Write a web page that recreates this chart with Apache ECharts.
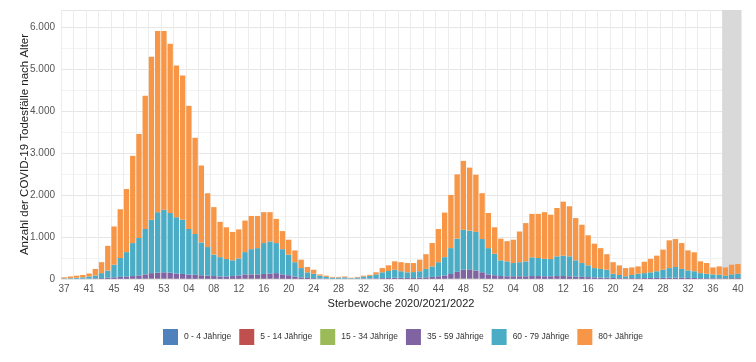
<!DOCTYPE html>
<html><head><meta charset="utf-8">
<script src="https://cdn.jsdelivr.net/npm/echarts@6/dist/echarts.min.js"></script>
<style>html,body{margin:0;padding:0;background:#fff}#c{width:756px;height:362px}</style>
</head><body><div id="c"></div>
<script>
const weeks = [
 "2020-37","2020-38","2020-39","2020-40","2020-41","2020-42","2020-43","2020-44","2020-45","2020-46","2020-47","2020-48","2020-49","2020-50","2020-51","2020-52","2020-53",
 "2021-01","2021-02","2021-03","2021-04","2021-05","2021-06","2021-07","2021-08","2021-09","2021-10","2021-11","2021-12","2021-13","2021-14","2021-15","2021-16","2021-17","2021-18","2021-19","2021-20","2021-21","2021-22","2021-23","2021-24","2021-25","2021-26","2021-27","2021-28","2021-29","2021-30","2021-31","2021-32","2021-33","2021-34","2021-35","2021-36","2021-37","2021-38","2021-39","2021-40","2021-41","2021-42","2021-43","2021-44","2021-45","2021-46","2021-47","2021-48","2021-49","2021-50","2021-51","2021-52",
 "2022-01","2022-02","2022-03","2022-04","2022-05","2022-06","2022-07","2022-08","2022-09","2022-10","2022-11","2022-12","2022-13","2022-14","2022-15","2022-16","2022-17","2022-18","2022-19","2022-20","2022-21","2022-22","2022-23","2022-24","2022-25","2022-26","2022-27","2022-28","2022-29","2022-30","2022-31","2022-32","2022-33","2022-34","2022-35","2022-36","2022-37","2022-38","2022-39","2022-40"
];
const age0_4 = [0,0,0,0,0,0,0,0,0,0,0,1,0,1,0,1,1, 1,0,1,0,0,1,0,0,0,0,0,0,1,0,0,0,1,0,0,0,0,0,0,0,0,0,0,0,0,0,0,0,0,0,0,0,0,0,0,0,0,0,0,0,0,1,0,1,1,0,1,0, 0,0,0,1,0,0,0,0,0,0,1,0,0,0,0,0,0,0,0,0,0,0,0,0,0,0,0,0,0,0,0,0,0,0,0,0,0,0,0,0];
const age5_14 = [0,0,0,0,0,0,0,0,0,0,0,0,0,0,1,0,0, 0,1,0,0,0,0,0,0,0,0,0,0,0,0,0,0,0,0,0,0,0,0,0,0,0,0,0,0,0,0,0,0,0,0,0,0,0,0,0,0,0,0,0,0,0,0,1,0,0,1,0,0, 0,0,0,0,0,0,0,1,0,0,0,0,0,0,0,0,0,0,0,0,0,0,0,0,0,0,0,0,0,0,0,0,0,0,0,0,0,0,0,0];
const age15_34 = [0,0,0,1,1,1,1,2,2,3,3,4,4,5,6,6,6, 6,5,5,4,4,4,3,3,3,3,3,4,4,5,5,5,5,5,4,3,3,2,1,1,1,1,0,0,0,0,1,1,1,1,1,2,2,2,2,2,2,2,3,3,4,5,6,7,7,6,5,4, 4,3,3,3,3,3,3,3,3,3,3,3,3,3,2,2,2,2,2,1,1,1,1,1,1,1,1,1,2,2,1,1,1,1,1,1,1,1,1,1];
const age35_59 = [5,5,5,7,9,14,19,28,38,47,57,65,81,104,133,143,153, 143,124,114,101,96,85,77,67,57,57,67,81,105,105,105,115,124,135,106,87,57,38,24,19,11,9,8,8,8,5,7,9,11,14,19,23,28,26,23,23,28,38,47,62,81,114,163,212,222,194,155,106, 86,67,62,61,62,62,67,66,62,62,66,67,62,52,48,43,38,33,28,24,19,17,19,19,21,24,24,26,28,28,27,24,24,19,19,17,17,14,17,17];
const age60_79 = [10,15,25,32,50,65,120,170,300,450,580,785,890,1080,1270,1440,1490, 1420,1340,1290,1085,970,780,680,510,460,415,375,405,530,600,625,735,765,715,600,490,340,220,135,105,68,40,27,27,32,15,27,50,63,95,140,165,190,157,135,140,155,200,250,335,435,615,790,950,920,920,790,625, 510,375,355,315,335,355,445,430,415,410,470,485,475,390,330,280,220,205,190,100,75,47,75,105,118,135,160,192,230,255,212,180,160,120,105,92,82,65,92,107];
const age80plus = [25,40,50,55,70,160,260,590,910,1160,1500,2075,2475,3170,3880,4310,4250, 4030,3610,3430,2930,2290,1830,1280,1130,840,755,675,690,750,790,765,735,695,575,430,355,280,200,125,95,30,30,15,15,20,10,15,20,25,50,100,135,200,215,220,215,275,350,555,790,1060,1265,1530,1640,1500,1360,1090,835, 630,515,480,555,730,910,1035,1050,1110,1055,1150,1285,1190,1005,910,715,580,495,370,275,230,195,180,175,270,320,370,480,660,665,615,475,450,280,255,165,200,195,230,230];
const yTicks = [0,1000,2000,3000,4000,5000,6000];
const greyStartIndex = 105.5, greyEndIndex = 108.5;

const names = ["0 - 4 Jährige","5 - 14 Jährige","15 - 34 Jährige","35 - 59 Jährige","60 - 79 Jährige","80+ Jährige"];
const colors = ["#4f81bd","#c0504d","#9bbb59","#8064a2","#4bacc6","#f79646"];
const datas = [age0_4,age5_14,age15_34,age35_59,age60_79,age80plus];

const chart = echarts.init(document.getElementById('c'));
const series = datas.map((d,i)=>({
  name: names[i], type:'bar', stack:'all', data:d, barCategoryGap:'14%',
  itemStyle:{color:colors[i]}, emphasis:{disabled:true}, z:3
}));
series.push({
  type:'line', xAxisIndex:1, data:[], silent:true,
  markArea:{silent:true, itemStyle:{color:'#d9d9d9'}, data:[[{xAxis:greyStartIndex},{xAxis:greyEndIndex}]]}, z:2
});
chart.setOption({
  animation:false,
  color: colors,
  textStyle:{fontFamily:'Liberation Sans, Arial, sans-serif'},
  grid:{left:61,right:15,top:10,bottom:83,containLabel:false,outerBoundsMode:'none'},
  legend:{
    data:names, bottom:12, left:158, itemWidth:15, itemHeight:16, itemGap:8,
    icon:'rect', textStyle:{fontSize:8.5,color:'#333',padding:[0,0,0,1]}
  },
  xAxis:[{
    type:'category', data:weeks, boundaryGap:true,
    axisLine:{show:false}, axisTick:{show:false, interval:1, alignWithLabel:true},
    axisLabel:{interval:3, fontSize:10, color:'#555', margin:5, formatter:v=>v.split('-')[1]},
    splitLine:{show:true, interval:1, lineStyle:{color:'#ececec',width:1}},
    name:'Sterbewoche 2020/2021/2022', nameLocation:'middle', nameGap:16,
    nameTextStyle:{fontSize:11,color:'#222'}
  },{
    type:'value', min:-0.5, max:108.5, show:false
  }],
  yAxis:{
    type:'value', min:0, max:6400, interval:1000,
    axisLine:{show:false}, axisTick:{show:false},
    axisLabel:{fontSize:10,color:'#555',margin:6, showMaxLabel:false,
      formatter:v=> yTicks.includes(v) ? (v>=1000 ? (v/1000)+'.000' : String(v)) : ''},
    splitLine:{lineStyle:{color:'#e6e6e6'}},
    minorTick:{show:false, splitNumber:2},
    minorSplitLine:{show:true, lineStyle:{color:'#f3f3f3'}},
    name:'Anzahl der COVID-19 Todesfälle nach Alter', nameLocation:'middle', nameGap:30,
    nameMoveOverlap:false,
    nameRotate:90, nameTextStyle:{fontSize:11.5,color:'#222'}
  },
  series: series
});
</script></body></html>
